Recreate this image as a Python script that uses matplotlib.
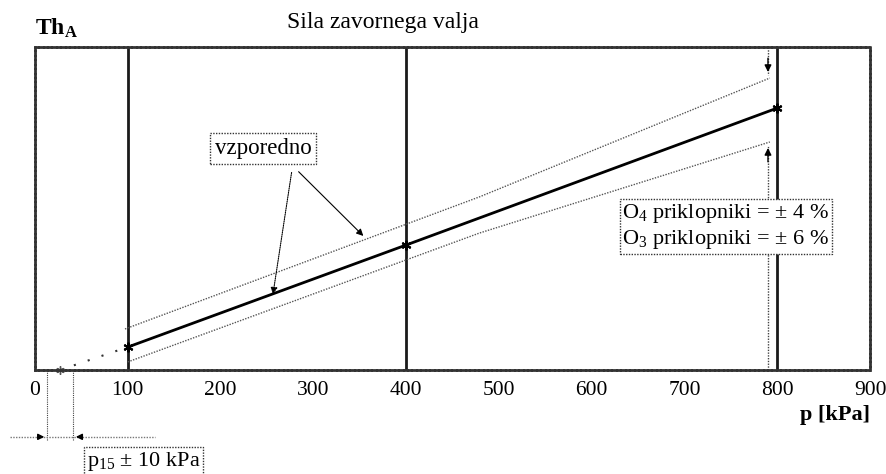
import matplotlib
matplotlib.use('Agg')
import matplotlib.pyplot as plt
import numpy as np

plt.rcParams['font.family'] = 'Liberation Serif'
plt.rcParams['mathtext.fontset'] = 'custom'
plt.rcParams['mathtext.rm'] = 'Liberation Serif'
plt.rcParams['mathtext.it'] = 'Liberation Serif:italic'
plt.rcParams['mathtext.bf'] = 'Liberation Serif:bold'

# pressure axis and reference pressures
p_ticks = [0, 100, 200, 300, 400, 500, 600, 700, 800, 900]
p_ref = [100, 400, 800]

# brake cylinder force, nominal line and tolerance band
p_main = [100, 400, 800]
th_main = [7.1, 38.7, 81.1]
p_upper = [97, 479, 792]
th_upper = [12.7, 53.6, 90.4]
p_lower = [100, 479, 792]
th_lower = [2.5, 42.4, 70.6]

# extension of nominal line towards p15
p_ext = [27, 100]
th_ext = [0.0, 7.1]

# p15 tolerance
p15 = 27
p15_tol = [13, 41]

fig = plt.figure(figsize=(8.86, 4.74), dpi=100)
ax = fig.add_axes([0.0395, 0.2194, 0.9425, 0.6814])
ax.set_xlim(0, 900)
ax.set_ylim(0, 100)

for s in ax.spines.values():
    s.set_linewidth(2)
    s.set_color('#333333')
    s.set_linestyle((0, (1, 0.6)))

ax.set_yticks([])
ax.set_xticks(p_ticks)
ax.set_xticklabels([str(v) for v in p_ticks], fontsize=15.5)
ax.tick_params(axis='x', length=0, pad=8)

# vertical reference lines
for p in p_ref:
    ax.axvline(p, color='#1a1a1a', lw=2)

# tolerance band and nominal line
ax.plot(p_upper, th_upper, color='#555555', lw=1, linestyle=(0, (1, 1)))
ax.plot(p_lower, th_lower, color='#555555', lw=1, linestyle=(0, (1, 1)))
ax.plot(p_main, th_main, color='black', lw=2, marker=(6, 2, 0), ms=7, mew=1.5)
ax.plot(p_ext, th_ext, color='#333333', lw=1.5, linestyle=(0, (1, 6)))
ax.plot([p15], [0], marker=(6, 2, 0), ms=6, color='#555555', clip_on=False)

# tolerance arrows at 800 kPa
p_arr = 790
ax.plot([p_arr, p_arr], [100, th_upper[-1] + 1], color='#444444', lw=1, linestyle=(0, (1, 1)))
ax.plot([p_arr, p_arr], [0, th_lower[-1] - 1], color='#444444', lw=1, linestyle=(0, (1, 1)))
ax.annotate('', xy=(p_arr, th_upper[-1] + 1), xytext=(p_arr, th_upper[-1] + 7),
            arrowprops=dict(arrowstyle='-|>', color='black', lw=1, mutation_scale=10))
ax.annotate('', xy=(p_arr, th_lower[-1] - 1), xytext=(p_arr, th_lower[-1] - 7),
            arrowprops=dict(arrowstyle='-|>', color='black', lw=1, mutation_scale=10))

# "vzporedno" label with two pointers
ax.text(246, 68.6, 'vzporedno', fontsize=16.5, ha='center', va='center',
        bbox=dict(boxstyle='square,pad=0.2', fc='white', ec='#333333', lw=1, ls=(0, (1, 1))))
ax.annotate('', xy=(356, 40.9), xytext=(282, 62.0),
            arrowprops=dict(arrowstyle='-|>', color='black', lw=0.8, mutation_scale=10))
ax.annotate('', xy=(256, 22.6), xytext=(277, 62.0),
            arrowprops=dict(arrowstyle='-|>', color='black', lw=0.8, ls=(0, (1, 1)),
                            mutation_scale=10))

# tolerance legend
ax.text(856, 44.4, 'O$_4$ priklopniki = ± 4 %\nO$_3$ priklopniki = ± 6 %', fontsize=16,
        ha='right', va='center', linespacing=1.2, zorder=5,
        bbox=dict(boxstyle='square,pad=0.12', fc='white', ec='#333333', lw=1, ls=(0, (1, 1))))

# p15 tolerance below the axis
for p in p15_tol:
    ax.plot([p, p], [0, -22], color='#444444', lw=0.8, linestyle=(0, (1, 1)), clip_on=False)
ax.plot([-27, 129], [-20.7, -20.7], color='#777777', lw=1, linestyle=(0, (1, 1)), clip_on=False)
ax.annotate('', xy=(p15_tol[0], -20.7), xytext=(p15_tol[0] - 12, -20.7),
            arrowprops=dict(arrowstyle='-|>', color='black', lw=1, mutation_scale=9),
            annotation_clip=False)
ax.annotate('', xy=(p15_tol[1], -20.7), xytext=(p15_tol[1] + 12, -20.7),
            arrowprops=dict(arrowstyle='-|>', color='black', lw=1, mutation_scale=9),
            annotation_clip=False)
ax.text(56, -28.3, 'p$_{15}$ ± 10 kPa', fontsize=16, ha='left', va='center', clip_on=False,
        bbox=dict(boxstyle='square,pad=0.12', fc='white', ec='#333333', lw=1, ls=(0, (1, 1))))

# titles and axis names
fig.text(0.432, 0.953, 'Sila zavornega valja', fontsize=17, ha='center', va='center')
fig.text(0.04, 0.94, r'$\mathbf{Th}_{\mathbf{A}}$', fontsize=17, ha='left', va='center')
fig.text(0.982, 0.125, 'p [kPa]', fontsize=16, fontweight='bold', ha='right', va='center')

fig.savefig('out.png', dpi=100)
